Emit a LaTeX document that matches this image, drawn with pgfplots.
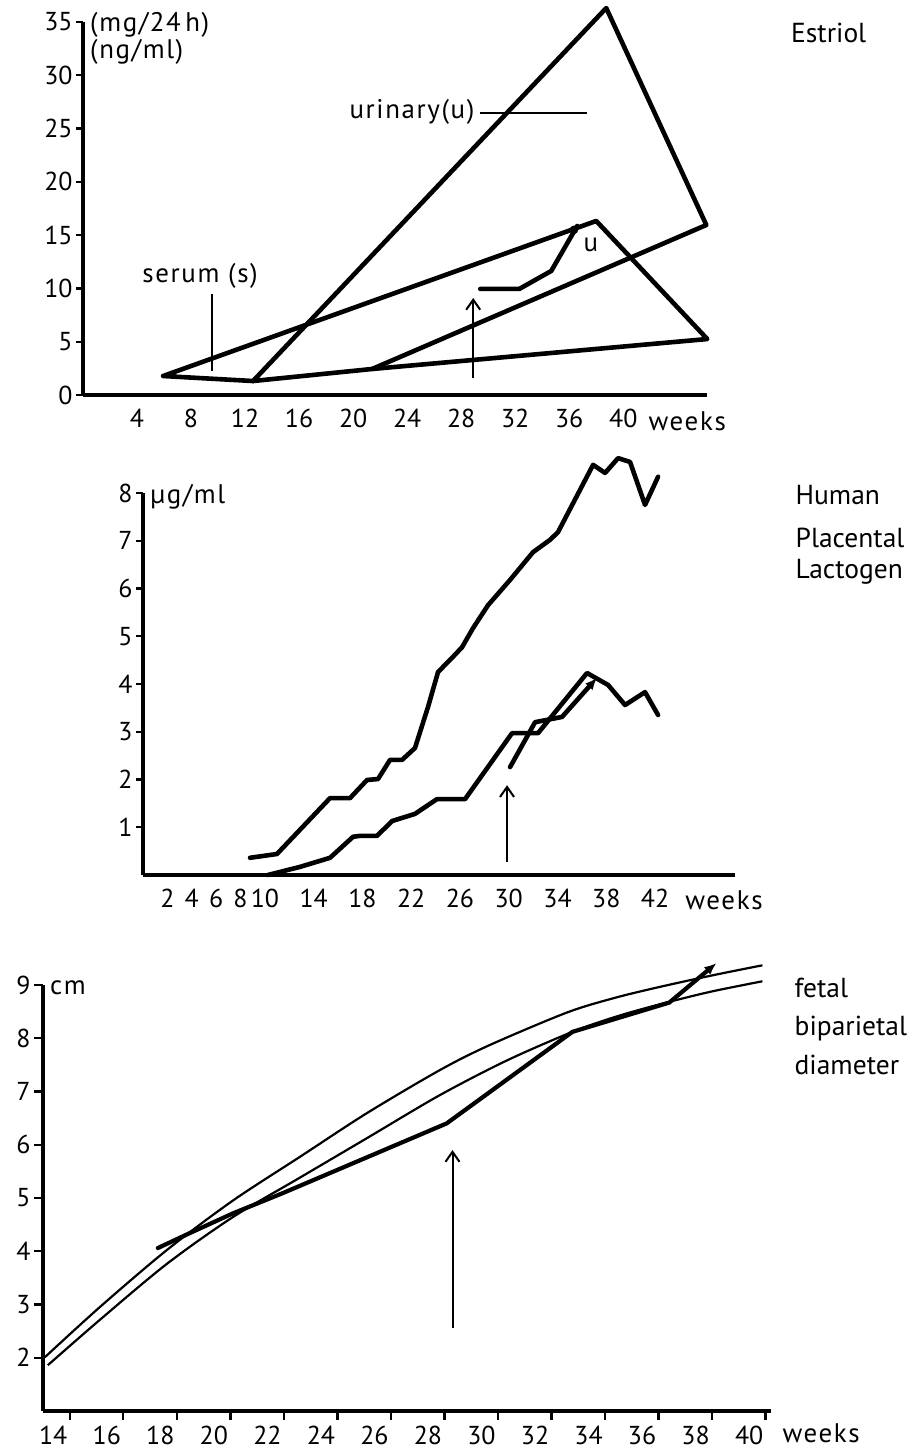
\documentclass[border=0pt]{standalone}
\usepackage{fontspec}
\setmainfont{PT Sans}
\newfontfamily\spaced[LetterSpace=6]{PT Sans}
\usepackage{pgfplots}
\pgfplotsset{compat=1.18}
\usetikzlibrary{arrows.meta}
\tikzset{
  curve/.style={black, line width=2.3bp, line join=round, line cap=round, mark=none},
  refcurve/.style={black, line width=1.1bp, line join=round, mark=none, smooth},
  leader/.style={black, line width=0.9bp, mark=none},
  uparrow/.style={black, line width=1bp, mark=none, -{Straight Barb[length=5bp,width=7bp,line width=1bp]}},
  lbl/.style={font=\spaced\fontsize{13.5}{15}\selectfont, inner sep=0pt},
  rlbl/.style={font=\fontsize{13.8}{16}\selectfont, inner sep=0pt, anchor=west},
}
\pgfplotsset{
  base/.style={
    scale only axis, axis lines=left, axis line style={-, line width=1.8bp},
    clip=false, tick align=outside, major tick length=3.5bp,
    every tick/.style={black, line width=1.2bp},
    /pgf/number format/assume math mode=true,
    tick label style={font=\fontsize{13}{15}\selectfont},
    yticklabel style={inner sep=1.5bp},
  },
}
\begin{document}
\begin{tikzpicture}
\path[use as bounding box] (0,0) rectangle (455bp,725.5bp);

% ---------------- Estriol ----------------
\begin{axis}[base, at={(41.5bp,528bp)}, anchor=south west,
  width=312bp, height=186.5bp,
  xmin=0, xmax=46.2, ymin=0, ymax=35,
  xtick={4,8,...,40}, ytick={0,5,...,35},
  major x tick style={draw=none}]
\addplot[curve] coordinates {(5.93,1.78) (12.59,1.31) (21.41,2.44) (46.22,5.25) (38.0,16.33) (5.93,1.78)};
\addplot[curve] coordinates {(12.59,1.31) (38.74,36.31) (46.15,15.95) (21.41,2.44)};
\addplot[curve] coordinates {(29.41,9.95) (32.30,9.95) (34.67,11.64) (36.59,15.86)};
\addplot[black, only marks, mark=o, mark size=1.6bp, line width=1bp] coordinates {(36.35,15.5)};
\addplot[uparrow] coordinates {(28.89,1.6) (28.89,9.1)};
\addplot[leader] coordinates {(29.4,26.46) (37.3,26.46)};
\addplot[leader] coordinates {(9.56,9.48) (9.56,2.25)};
\node[lbl, anchor=east] at (axis cs:29.0,26.6) {urinary(u)};
\node[lbl] at (axis cs:8.67,11.17) {serum (s)};
\node[lbl] at (axis cs:37.6,14.1) {u};
\node[lbl, anchor=west] at (axis cs:0.5,34.7) {(mg/24\,h)};
\node[lbl, anchor=west] at (axis cs:0.5,32.2) {(ng/ml)};
\node[lbl, anchor=west] at (axis cs:41.85,-2.44) {weeks};
\node[rlbl] at (axis cs:52.4,33.97) {Estriol};
\end{axis}

% ---------------- HPL ----------------
\begin{axis}[base, at={(71.5bp,288bp)}, anchor=south west,
  width=296bp, height=191bp,
  xmin=0, xmax=48.56, ymin=0, ymax=8,
  xtick={2,4,6,8,10,14,18,22,26,30,34,38,42}, ytick={1,...,8},
  major x tick style={draw=none}]
\addplot[curve] coordinates {(8.78,0.36) (10.99,0.44) (15.34,1.61) (16.98,1.61) (18.38,1.99) (19.28,2.01)
  (20.26,2.41) (21.25,2.41) (22.31,2.66) (23.38,3.52) (24.20,4.25) (25.43,4.57) (26.17,4.77)
  (27.07,5.17) (28.30,5.65) (30.11,6.18) (31.99,6.76) (33.39,7.02) (34.04,7.18) (36.92,8.59)
  (37.90,8.42) (38.97,8.73) (39.95,8.65) (41.18,7.75) (42.25,8.34)};
\addplot[curve] coordinates {(10.25,0) (12.88,0.17) (15.34,0.36) (17.23,0.80) (17.80,0.82) (19.20,0.82)
  (20.43,1.13) (22.31,1.28) (24.12,1.59) (26.42,1.59) (30.27,2.97) (32.40,2.97) (36.42,4.23)
  (38.15,3.98) (39.54,3.56) (41.18,3.83) (42.25,3.35)};
\addplot[curve, -{Latex[length=6bp,width=5bp]}] coordinates {(30.11,2.26) (32.16,3.20) (34.37,3.31) (37.24,4.13)};
\addplot[uparrow] coordinates {(29.86,0.27) (29.86,1.88)};
\node[lbl, anchor=west] at (axis cs:0.57,7.92) {µg/ml};
\node[lbl, anchor=west] at (axis cs:44.46,-0.52) {weeks};
\node[rlbl] at (axis cs:53.5,7.96) {Human};
\node[rlbl] at (axis cs:53.5,7.06) {Placental};
\node[rlbl] at (axis cs:53.5,6.35) {Lactogen};
\end{axis}

% ---------------- BPD ----------------
\begin{axis}[base, at={(21.5bp,20bp)}, anchor=south west,
  width=364bp, height=213bp,
  xmin=13, xmax=40.2, ymin=1, ymax=9,
  xtick={14,16,...,40}, ytick={2,...,9}, major tick length=4.5bp,
  xticklabel style={anchor=north east, inner sep=1bp, yshift=-2bp}]
\addplot[refcurve] coordinates {(13.07,2.01) (15.12,2.95) (17.62,4.02) (20.09,4.95) (22.59,5.77)
  (25.09,6.59) (27.82,7.40) (29.68,7.87) (32.56,8.48) (34.3,8.75) (35.92,8.95) (38,9.18) (39.88,9.37)};
\addplot[refcurve] coordinates {(13.18,1.86) (15.12,2.71) (17.62,3.76) (20.09,4.64) (22.59,5.38)
  (25.09,6.12) (27.82,6.93) (30.32,7.58) (32.78,8.12) (34.5,8.42) (36.29,8.67) (38,8.88) (39.88,9.07)};
\addplot[black, line width=2.1bp, line join=round, line cap=round, mark=none, -{Latex[length=6bp,width=5bp]}]
  coordinates {(17.29,4.06) (18.48,4.34) (20.09,4.71) (21.95,5.09) (28.08,6.40) (29.42,6.89)
  (32.78,8.12) (36.40,8.67) (38.16,9.41)};
\addplot[uparrow] coordinates {(28.30,2.56) (28.30,5.90)};
\node[lbl, anchor=west] at (axis cs:13.25,8.95) {cm};
\node[lbl, anchor=west] at (axis cs:40.62,0.59) {weeks};
\node[rlbl] at (axis cs:41.07,8.95) {fetal};
\node[rlbl] at (axis cs:41.07,8.19) {biparietal};
\node[rlbl] at (axis cs:41.07,7.49) {diameter};
\end{axis}
\end{tikzpicture}
\end{document}
